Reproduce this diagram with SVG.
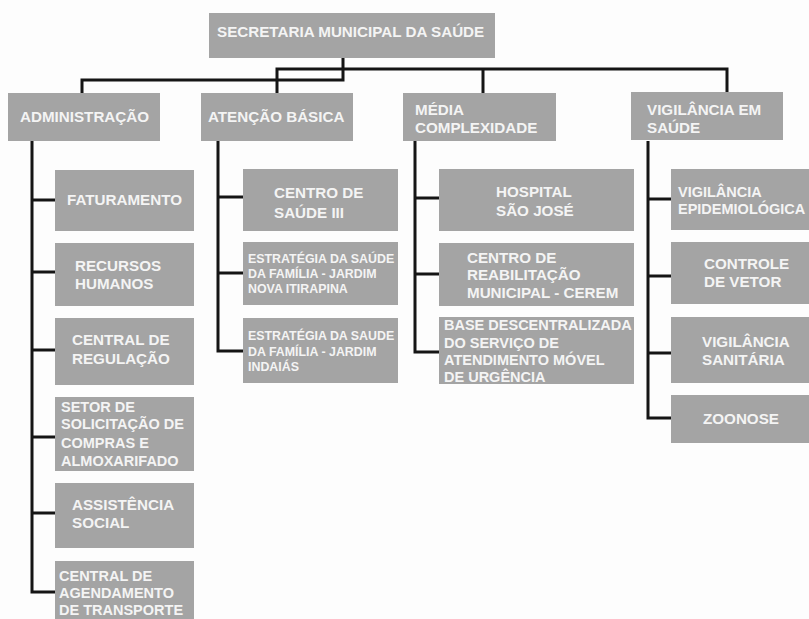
<svg xmlns="http://www.w3.org/2000/svg" width="809" height="619" viewBox="0 0 809 619">
<style>
.b{fill:#a4a4a4}
.t{font-family:"Liberation Sans",Arial,sans-serif;font-weight:bold;font-size:15.2px;fill:#f4f4f4}
.s{font-size:12.4px}
.m{font-size:14.5px}
.c{fill:none;stroke:#151515;stroke-width:3}
</style>
<rect width="809" height="619" fill="#fdfdfd"/>
<g id="connectors" class="c">
<polyline points="343,58 343,80 82,80 82,93"/>
<polyline points="277,93 277,69 727,69 727,93"/>
<line x1="483" y1="69" x2="483" y2="93"/>
<polyline points="32,141 32,592 55,592"/>
<line x1="32" y1="200" x2="55" y2="200"/>
<line x1="32" y1="272" x2="55" y2="272"/>
<line x1="32" y1="350" x2="55" y2="350"/>
<line x1="32" y1="437" x2="55" y2="437"/>
<line x1="32" y1="513" x2="55" y2="513"/>
<polyline points="218,141 218,351 243,351"/>
<line x1="218" y1="197" x2="243" y2="197"/>
<line x1="218" y1="273" x2="243" y2="273"/>
<polyline points="415,141 415,352 439,352"/>
<line x1="415" y1="198" x2="439" y2="198"/>
<line x1="415" y1="274" x2="439" y2="274"/>
<polyline points="648,141 648,418 671,418"/>
<line x1="648" y1="199" x2="671" y2="199"/>
<line x1="648" y1="276" x2="671" y2="276"/>
<line x1="648" y1="353" x2="671" y2="353"/>
</g>
<g id="secretaria"><rect class="b" x="209" y="13" width="286" height="45"/><text class="t" x="217" y="37">SECRETARIA MUNICIPAL DA SAÚDE</text></g>
<g id="administracao"><rect class="b" x="8" y="93" width="152" height="48"/><text class="t" x="20" y="122">ADMINISTRAÇÃO</text></g>
<g id="atencao"><rect class="b" x="201" y="93" width="152" height="48"/><text class="t" x="208" y="122">ATENÇÃO BÁSICA</text></g>
<g id="media"><rect class="b" x="403" y="93" width="153" height="48"/><text class="t" x="415" y="115">MÉDIA</text><text class="t" x="415" y="133">COMPLEXIDADE</text></g>
<g id="vigilancia"><rect class="b" x="631" y="92" width="152" height="48"/><text class="t" x="647" y="115">VIGILÂNCIA EM</text><text class="t" x="647" y="133">SAÚDE</text></g>
<g id="faturamento"><rect class="b" x="55" y="170" width="139" height="61"/><text class="t" x="67" y="205">FATURAMENTO</text></g>
<g id="recursos"><rect class="b" x="55" y="243" width="139" height="63"/><text class="t" x="75" y="271">RECURSOS</text><text class="t" x="75" y="289">HUMANOS</text></g>
<g id="regulacao"><rect class="b" x="55" y="318" width="139" height="67"/><text class="t" x="72" y="345">CENTRAL DE</text><text class="t" x="72" y="364">REGULAÇÃO</text></g>
<g id="setor"><rect class="b" x="55" y="397" width="139" height="74"/><text class="t m" x="61" y="412">SETOR DE</text><text class="t m" x="61" y="429">SOLICITAÇÃO DE</text><text class="t m" x="61" y="448">COMPRAS E</text><text class="t m" x="61" y="466">ALMOXARIFADO</text></g>
<g id="assistencia"><rect class="b" x="55" y="483" width="139" height="65"/><text class="t" x="72" y="510">ASSISTÊNCIA</text><text class="t" x="72" y="528">SOCIAL</text></g>
<g id="agendamento"><rect class="b" x="55" y="561" width="139" height="70"/><text class="t m" x="59" y="581">CENTRAL DE</text><text class="t m" x="59" y="598">AGENDAMENTO</text><text class="t m" x="59" y="615">DE TRANSPORTE</text></g>
<g id="centro-saude"><rect class="b" x="243" y="169" width="155" height="62"/><text class="t" x="274" y="198">CENTRO DE</text><text class="t" x="274" y="218">SAÚDE III</text></g>
<g id="esf-itirapina"><rect class="b" x="243" y="242" width="155" height="63"/><text class="t s" x="248" y="263">ESTRATÉGIA DA SAÚDE</text><text class="t s" x="248" y="278">DA FAMÍLIA - JARDIM</text><text class="t s" x="248" y="293">NOVA ITIRAPINA</text></g>
<g id="esf-indaias"><rect class="b" x="243" y="318" width="155" height="65"/><text class="t s" x="248" y="340">ESTRATÉGIA DA SAUDE</text><text class="t s" x="248" y="356">DA FAMÍLIA - JARDIM</text><text class="t s" x="248" y="371">INDAIÁS</text></g>
<g id="hospital"><rect class="b" x="439" y="169" width="195" height="62"/><text class="t" x="496" y="197">HOSPITAL</text><text class="t" x="496" y="216">SÃO JOSÉ</text></g>
<g id="cerem"><rect class="b" x="439" y="243" width="195" height="63"/><text class="t" x="467" y="263">CENTRO DE</text><text class="t" x="467" y="280">REABILITAÇÃO</text><text class="t" x="467" y="298">MUNICIPAL - CEREM</text></g>
<g id="samu"><rect class="b" x="439" y="317" width="195" height="67"/><text class="t m" x="444" y="330">BASE DESCENTRALIZADA</text><text class="t m" x="444" y="348">DO SERVIÇO DE</text><text class="t m" x="444" y="365">ATENDIMENTO MÓVEL</text><text class="t m" x="444" y="382">DE URGÊNCIA</text></g>
<g id="epidemiologica"><rect class="b" x="671" y="169" width="140" height="61"/><text class="t m" x="678" y="197">VIGILÂNCIA</text><text class="t m" x="678" y="214">EPIDEMIOLÓGICA</text></g>
<g id="vetor"><rect class="b" x="671" y="242" width="140" height="62"/><text class="t" x="704" y="269">CONTROLE</text><text class="t" x="704" y="287">DE VETOR</text></g>
<g id="sanitaria"><rect class="b" x="671" y="317" width="140" height="66"/><text class="t" x="702" y="347">VIGILÂNCIA</text><text class="t" x="702" y="365">SANITÁRIA</text></g>
<g id="zoonose"><rect class="b" x="671" y="395" width="140" height="48"/><text class="t" x="703" y="424">ZOONOSE</text></g>
</svg>
